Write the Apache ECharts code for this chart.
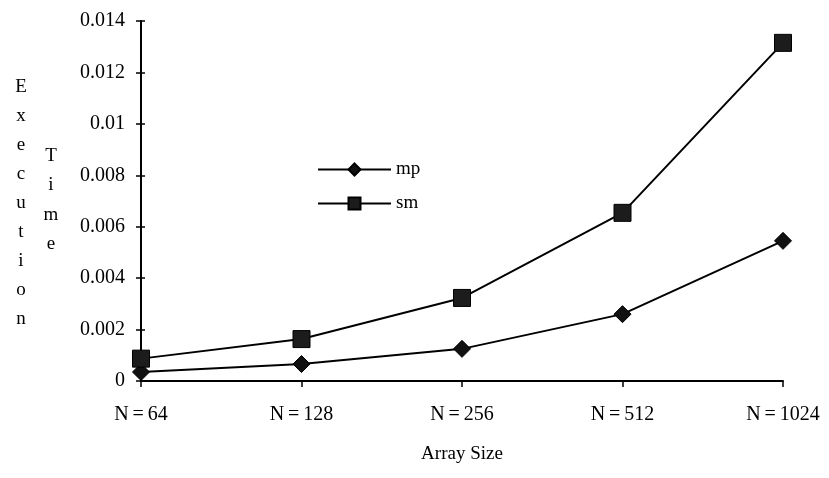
<!DOCTYPE html>
<html>
<head>
<meta charset="utf-8">
<script src="https://cdn.jsdelivr.net/npm/echarts@6/dist/echarts.min.js"></script>
<style>
html, body { margin: 0; padding: 0; background: #fff; }
#chart { width: 829px; height: 478px; }
</style>
</head>
<body>
<div id="chart"></div>
<script>
// 数据
var categories = ["N\u2009=\u200964", "N\u2009=\u2009128", "N\u2009=\u2009256", "N\u2009=\u2009512", "N\u2009=\u20091024"];
var mpData = [0.00035, 0.00066, 0.00125, 0.0026, 0.00545];
var smData = [0.00087, 0.00163, 0.00323, 0.00654, 0.01315];
var yTicks = [0, 0.002, 0.004, 0.006, 0.008, 0.01, 0.012, 0.014];

var serif = "Liberation Serif";

var myChart = echarts.init(document.getElementById("chart"));

// 坐标轴刻度两侧都有，用第二个y轴画内侧刻度
var yBase = {
	type: "value",
	min: yTicks[0],
	max: yTicks[yTicks.length - 1],
	interval: 0.002,
	splitLine: { show: false }
};

var option = {
	backgroundColor: "#fff",
	animation: false,
	textStyle: { fontFamily: serif, color: "#000" },
	grid: { left: 141, right: 46, top: 21, bottom: 97 },
	legend: {
		orient: "vertical",
		left: 312,
		top: 155,
		itemWidth: 73,
		itemHeight: 15,
		itemGap: 15,
		data: ["mp", "sm"],
		textStyle: { fontFamily: serif, fontSize: 19, color: "#000", lineHeight: 15 }
	},
	graphic: [
		{ type: "text", x: 21, y: 73, style: { text: "E\nx\ne\nc\nu\nt\ni\no\nn", fontFamily: serif, fontSize: 19, lineHeight: 29, fill: "#000", align: "center", verticalAlign: "top" } },
		{ type: "text", x: 51, y: 141, style: { text: "T\ni\nm\ne", fontFamily: serif, fontSize: 19, lineHeight: 29.5, fill: "#000", align: "center", verticalAlign: "top" } }
	],
	xAxis: {
		type: "category",
		data: categories,
		boundaryGap: false,
		name: "Array Size",
		nameLocation: "middle",
		nameGap: 64,
		nameTextStyle: { fontFamily: serif, fontSize: 19, color: "#000" },
		axisLine: { lineStyle: { color: "#000", width: 2 } },
		axisTick: { length: 6, lineStyle: { color: "#000", width: 1.5 } },
		axisLabel: { margin: 24, fontFamily: serif, fontSize: 20, color: "#000" }
	},
	yAxis: [
		echarts.util.merge({
			axisLine: { show: true, lineStyle: { color: "#000", width: 2 } },
			axisTick: { show: true, length: 5, lineStyle: { color: "#000", width: 1.5 } },
			axisLabel: {
				margin: 16,
				fontFamily: serif,
				fontSize: 20,
				color: "#000",
				formatter: function(v) { return String(+v.toFixed(3)); }
			}
		}, yBase, true),
		echarts.util.merge({
			position: "left",
			axisLine: { show: false },
			axisTick: { show: true, inside: true, length: 4, lineStyle: { color: "#000", width: 1.5 } },
			axisLabel: { show: false }
		}, yBase, true)
	],
	series: [
		{
			name: "mp",
			type: "line",
			data: mpData,
			symbol: "diamond",
			symbolSize: 17,
			lineStyle: { color: "#000", width: 2 },
			itemStyle: { color: "#111", borderColor: "#000", borderWidth: 1 }
		},
		{
			name: "sm",
			type: "line",
			data: smData,
			symbol: "rect",
			symbolSize: 17,
			lineStyle: { color: "#000", width: 2 },
			itemStyle: { color: "#1c1c1c", borderColor: "#000", borderWidth: 1 }
		}
	]
};

myChart.setOption(option);
</script>
</body>
</html>
